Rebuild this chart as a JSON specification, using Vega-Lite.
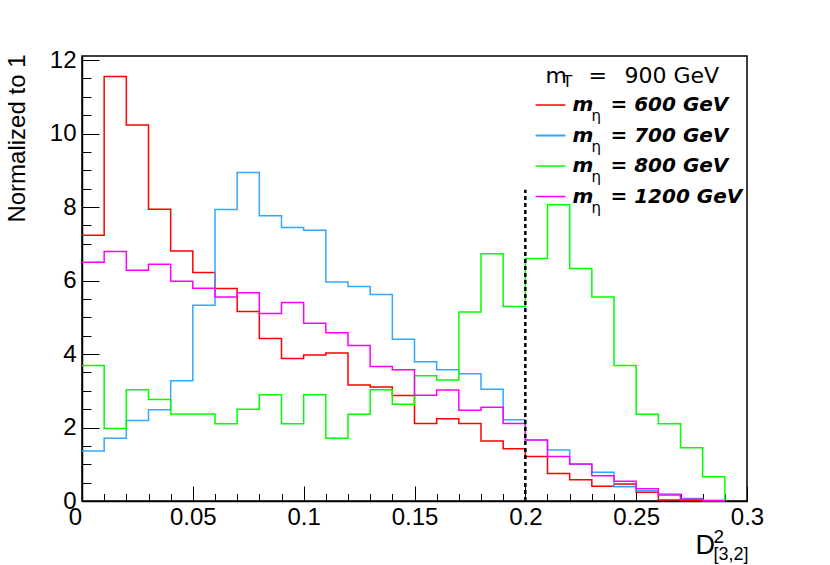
{
  "$schema": "https://vega.github.io/schema/vega-lite/v6.json",
  "width": 665,
  "height": 445,
  "autosize": {"type": "none"},
  "padding": {"left": 82, "top": 56, "right": 83, "bottom": 64},
  "background": "white",
  "datasets": {
    "hist": [
      {"s": "600", "x": 0.00, "v": 7.23}, {"s": "600", "x": 0.01, "v": 11.55}, {"s": "600", "x": 0.02, "v": 10.23},
      {"s": "600", "x": 0.03, "v": 7.94}, {"s": "600", "x": 0.04, "v": 6.80}, {"s": "600", "x": 0.05, "v": 6.22},
      {"s": "600", "x": 0.06, "v": 5.78}, {"s": "600", "x": 0.07, "v": 5.16}, {"s": "600", "x": 0.08, "v": 4.42},
      {"s": "600", "x": 0.09, "v": 3.88}, {"s": "600", "x": 0.10, "v": 3.97}, {"s": "600", "x": 0.11, "v": 4.03},
      {"s": "600", "x": 0.12, "v": 3.16}, {"s": "600", "x": 0.13, "v": 3.10}, {"s": "600", "x": 0.14, "v": 2.87},
      {"s": "600", "x": 0.15, "v": 2.11}, {"s": "600", "x": 0.16, "v": 2.24}, {"s": "600", "x": 0.17, "v": 2.11},
      {"s": "600", "x": 0.18, "v": 1.63}, {"s": "600", "x": 0.19, "v": 1.42}, {"s": "600", "x": 0.20, "v": 1.21},
      {"s": "600", "x": 0.21, "v": 0.75}, {"s": "600", "x": 0.22, "v": 0.58}, {"s": "600", "x": 0.23, "v": 0.40},
      {"s": "600", "x": 0.24, "v": 0.46}, {"s": "600", "x": 0.25, "v": 0.24}, {"s": "600", "x": 0.26, "v": 0.03},
      {"s": "600", "x": 0.27, "v": 0.01}, {"s": "600", "x": 0.28, "v": 0.0}, {"s": "600", "x": 0.29, "v": 0.0},
      {"s": "700", "x": 0.00, "v": 1.36}, {"s": "700", "x": 0.01, "v": 1.71}, {"s": "700", "x": 0.02, "v": 2.19},
      {"s": "700", "x": 0.03, "v": 2.48}, {"s": "700", "x": 0.04, "v": 3.27}, {"s": "700", "x": 0.05, "v": 5.33},
      {"s": "700", "x": 0.06, "v": 7.93}, {"s": "700", "x": 0.07, "v": 8.94}, {"s": "700", "x": 0.08, "v": 7.76},
      {"s": "700", "x": 0.09, "v": 7.44}, {"s": "700", "x": 0.10, "v": 7.37}, {"s": "700", "x": 0.11, "v": 5.96},
      {"s": "700", "x": 0.12, "v": 5.84}, {"s": "700", "x": 0.13, "v": 5.62}, {"s": "700", "x": 0.14, "v": 4.40},
      {"s": "700", "x": 0.15, "v": 3.79}, {"s": "700", "x": 0.16, "v": 3.57}, {"s": "700", "x": 0.17, "v": 3.46},
      {"s": "700", "x": 0.18, "v": 3.04}, {"s": "700", "x": 0.19, "v": 2.21}, {"s": "700", "x": 0.20, "v": 1.66},
      {"s": "700", "x": 0.21, "v": 1.39}, {"s": "700", "x": 0.22, "v": 1.00}, {"s": "700", "x": 0.23, "v": 0.78},
      {"s": "700", "x": 0.24, "v": 0.39}, {"s": "700", "x": 0.25, "v": 0.28}, {"s": "700", "x": 0.26, "v": 0.19},
      {"s": "700", "x": 0.27, "v": 0.07}, {"s": "700", "x": 0.28, "v": 0.02}, {"s": "700", "x": 0.29, "v": 0.0},
      {"s": "800", "x": 0.00, "v": 3.69}, {"s": "800", "x": 0.01, "v": 1.97}, {"s": "800", "x": 0.02, "v": 3.03},
      {"s": "800", "x": 0.03, "v": 2.76}, {"s": "800", "x": 0.04, "v": 2.37}, {"s": "800", "x": 0.05, "v": 2.37},
      {"s": "800", "x": 0.06, "v": 2.10}, {"s": "800", "x": 0.07, "v": 2.50}, {"s": "800", "x": 0.08, "v": 2.89},
      {"s": "800", "x": 0.09, "v": 2.10}, {"s": "800", "x": 0.10, "v": 2.89}, {"s": "800", "x": 0.11, "v": 1.71},
      {"s": "800", "x": 0.12, "v": 2.36}, {"s": "800", "x": 0.13, "v": 3.03}, {"s": "800", "x": 0.14, "v": 2.63},
      {"s": "800", "x": 0.15, "v": 3.41}, {"s": "800", "x": 0.16, "v": 3.29}, {"s": "800", "x": 0.17, "v": 5.14},
      {"s": "800", "x": 0.18, "v": 6.73}, {"s": "800", "x": 0.19, "v": 5.29}, {"s": "800", "x": 0.20, "v": 6.60},
      {"s": "800", "x": 0.21, "v": 8.06}, {"s": "800", "x": 0.22, "v": 6.33}, {"s": "800", "x": 0.23, "v": 5.55},
      {"s": "800", "x": 0.24, "v": 3.69}, {"s": "800", "x": 0.25, "v": 2.36}, {"s": "800", "x": 0.26, "v": 2.10},
      {"s": "800", "x": 0.27, "v": 1.45}, {"s": "800", "x": 0.28, "v": 0.66}, {"s": "800", "x": 0.29, "v": 0.0},
      {"s": "1200", "x": 0.00, "v": 6.50}, {"s": "1200", "x": 0.01, "v": 6.79}, {"s": "1200", "x": 0.02, "v": 6.28},
      {"s": "1200", "x": 0.03, "v": 6.44}, {"s": "1200", "x": 0.04, "v": 5.98}, {"s": "1200", "x": 0.05, "v": 5.79},
      {"s": "1200", "x": 0.06, "v": 5.55}, {"s": "1200", "x": 0.07, "v": 5.67}, {"s": "1200", "x": 0.08, "v": 5.10},
      {"s": "1200", "x": 0.09, "v": 5.40}, {"s": "1200", "x": 0.10, "v": 4.84}, {"s": "1200", "x": 0.11, "v": 4.58},
      {"s": "1200", "x": 0.12, "v": 4.23}, {"s": "1200", "x": 0.13, "v": 3.66}, {"s": "1200", "x": 0.14, "v": 3.57},
      {"s": "1200", "x": 0.15, "v": 2.88}, {"s": "1200", "x": 0.16, "v": 3.02}, {"s": "1200", "x": 0.17, "v": 2.47},
      {"s": "1200", "x": 0.18, "v": 2.55}, {"s": "1200", "x": 0.19, "v": 2.11}, {"s": "1200", "x": 0.20, "v": 1.66},
      {"s": "1200", "x": 0.21, "v": 1.21}, {"s": "1200", "x": 0.22, "v": 1.01}, {"s": "1200", "x": 0.23, "v": 0.69},
      {"s": "1200", "x": 0.24, "v": 0.54}, {"s": "1200", "x": 0.25, "v": 0.33}, {"s": "1200", "x": 0.26, "v": 0.16},
      {"s": "1200", "x": 0.27, "v": 0.05}, {"s": "1200", "x": 0.28, "v": 0.01}, {"s": "1200", "x": 0.29, "v": 0.0}
    ]
  },
  "layer": [
    {
      "data": {"name": "hist"},
      "mark": {"type": "line", "interpolate": "step-after", "strokeWidth": 1.5},
      "encoding": {
        "x": {
          "field": "x", "type": "quantitative",
          "scale": {"domain": [0, 0.3], "nice": false, "zero": false},
          "axis": {
            "orient": "bottom",
            "title": null,
            "values": [0, 0.05, 0.1, 0.15, 0.2, 0.25, 0.3],
            "labelExpr": "format(datum.value, '~g')",
            "ticks": false,
            "labelOffset": {"condition": {"test": "datum.value == 0", "value": -7}, "value": 0},
            "labelFlush": false,
            "labelOverlap": false,
            "labelPadding": 4
          }
        },
        "y": {
          "field": "v", "type": "quantitative",
          "scale": {"domain": [0, 12.11], "nice": false},
          "axis": {
            "orient": "left",
            "title": "Normalized to 1",
            "values": [0, 2, 4, 6, 8, 10, 12],
            "format": "d",
            "ticks": false,
            "labelOverlap": false,
            "labelPadding": 6,
            "titleX": -57.5,
            "titleY": -2,
            "titleAngle": 270,
            "titleAlign": "right",
            "titleBaseline": "alphabetic"
          }
        },
        "color": {
          "field": "s", "type": "nominal", "legend": null,
          "scale": {"domain": ["600", "700", "800", "1200"], "range": ["#ff0000", "#33a6ff", "#00ff00", "#ff00ff"]}
        }
      }
    },
    {
      "data": {"values": [{}]},
      "mark": {"type": "rule", "color": "black", "strokeWidth": 2.5, "strokeDash": [4, 3]},
      "encoding": {
        "x": {"datum": 0.2, "axis": {"orient": "top", "offset": -445, "title": null, "values": [0, 0.05, 0.1, 0.15, 0.2, 0.25, 0.3], "labels": false, "domain": false, "tickSize": 15}},
        "y": {"datum": 0, "axis": {"orient": "right", "offset": -665, "title": null, "values": [0, 2, 4, 6, 8, 10, 12], "labels": false, "domain": false, "tickSize": 17}},
        "y2": {"datum": 8.47}
      }
    },
    {
      "data": {"values": [{}]},
      "mark": {"type": "rule", "color": "#ff0000", "strokeWidth": 1.5},
      "encoding": {
        "x": {"datum": 0.2046, "axis": {"orient": "top", "offset": -445, "title": null, "values": [0, 0.01, 0.02, 0.03, 0.04, 0.05, 0.06, 0.07, 0.08, 0.09, 0.1, 0.11, 0.12, 0.13, 0.14, 0.15, 0.16, 0.17, 0.18, 0.19, 0.2, 0.21, 0.22, 0.23, 0.24, 0.25, 0.26, 0.27, 0.28, 0.29, 0.3], "labels": false, "domain": false, "tickSize": 7.5}},
        "x2": {"datum": 0.2181},
        "y": {"datum": 10.776, "axis": {"orient": "right", "offset": -665, "title": null, "values": [0, 0.5, 1, 1.5, 2, 2.5, 3, 3.5, 4, 4.5, 5, 5.5, 6, 6.5, 7, 7.5, 8, 8.5, 9, 9.5, 10, 10.5, 11, 11.5, 12], "labels": false, "domain": false, "tickSize": 9}}
      }
    },
    {
      "data": {"values": [{}]},
      "mark": {"type": "rule", "color": "#33a6ff", "strokeWidth": 2},
      "encoding": {"x": {"datum": 0.2046, "axis": null}, "x2": {"datum": 0.2181}, "y": {"datum": 9.946, "axis": null}}
    },
    {
      "data": {"values": [{}]},
      "mark": {"type": "rule", "color": "#00ff00", "strokeWidth": 1.5},
      "encoding": {"x": {"datum": 0.2046, "axis": null}, "x2": {"datum": 0.2181}, "y": {"datum": 9.116, "axis": null}}
    },
    {
      "data": {"values": [{}]},
      "mark": {"type": "rule", "color": "#ff00ff", "strokeWidth": 1.5},
      "encoding": {"x": {"datum": 0.2046, "axis": null}, "x2": {"datum": 0.2181}, "y": {"datum": 8.286, "axis": null}}
    },
    {
      "data": {"values": [{}]},
      "mark": {"type": "text", "text": "D", "font": "Liberation Sans", "fontSize": 27, "align": "left", "baseline": "alphabetic", "dx": -51.5, "dy": 53, "color": "black"},
      "encoding": {"x": {"datum": 0.3, "axis": null}, "y": {"datum": 0, "axis": null}}
    },
    {
      "data": {"values": [{}]},
      "mark": {"type": "text", "text": "2", "font": "Liberation Sans", "fontSize": 19, "align": "left", "baseline": "alphabetic", "dx": -33.5, "dy": 42, "color": "black"},
      "encoding": {"x": {"datum": 0.3, "axis": null}, "y": {"datum": 0, "axis": null}}
    },
    {
      "data": {"values": [{}]},
      "mark": {"type": "text", "text": "[3,2]", "font": "Liberation Sans", "fontSize": 18, "align": "left", "baseline": "alphabetic", "dx": -33.5, "dy": 59, "color": "black"},
      "encoding": {"x": {"datum": 0.3, "axis": null}, "y": {"datum": 0, "axis": null}}
    },
    {
      "data": {"values": [{}]},
      "mark": {"type": "text", "text": "m", "font": "DejaVu Sans", "fontSize": 22, "align": "left", "baseline": "alphabetic", "color": "black"},
      "encoding": {"x": {"datum": 0.2091, "axis": null}, "y": {"datum": 11.374, "axis": null}}
    },
    {
      "data": {"values": [{}]},
      "mark": {"type": "text", "text": "T", "font": "DejaVu Sans", "fontSize": 16, "align": "left", "baseline": "alphabetic", "dy": 4, "color": "black"},
      "encoding": {"x": {"datum": 0.2168, "axis": null}, "y": {"datum": 11.374, "axis": null}}
    },
    {
      "data": {"values": [{}]},
      "mark": {"type": "text", "text": "=", "font": "DejaVu Sans", "fontSize": 22, "align": "left", "baseline": "alphabetic", "color": "black"},
      "encoding": {"x": {"datum": 0.2285, "axis": null}, "y": {"datum": 11.374, "axis": null}}
    },
    {
      "data": {"values": [{}]},
      "mark": {"type": "text", "text": "900 GeV", "font": "DejaVu Sans", "fontSize": 22, "align": "left", "baseline": "alphabetic", "color": "black"},
      "encoding": {"x": {"datum": 0.2447, "axis": null}, "y": {"datum": 11.374, "axis": null}}
    },
    {
      "data": {"values": [{"y": 10.612, "t": "= 600 GeV"}, {"y": 9.782, "t": "= 700 GeV"}, {"y": 8.952, "t": "= 800 GeV"}, {"y": 8.122, "t": "= 1200 GeV"}]},
      "layer": [
        {
          "mark": {"type": "text", "text": "m", "font": "DejaVu Sans", "fontSize": 20, "fontWeight": "bold", "fontStyle": "italic", "align": "left", "baseline": "alphabetic", "color": "black"},
          "encoding": {"x": {"datum": 0.2213, "axis": null}, "y": {"field": "y", "type": "quantitative", "axis": null}}
        },
        {
          "mark": {"type": "text", "text": "η", "font": "DejaVu Sans", "fontSize": 15, "align": "left", "baseline": "alphabetic", "dy": 10, "color": "black"},
          "encoding": {"x": {"datum": 0.2298, "axis": null}, "y": {"field": "y", "type": "quantitative", "axis": null}}
        },
        {
          "mark": {"type": "text", "font": "DejaVu Sans", "fontSize": 20, "fontWeight": "bold", "fontStyle": "italic", "align": "left", "baseline": "alphabetic", "color": "black"},
          "encoding": {"x": {"datum": 0.2384, "axis": null}, "y": {"field": "y", "type": "quantitative", "axis": null}, "text": {"field": "t"}}
        }
      ]
    }
  ],
  "config": {
    "font": "Liberation Sans",
    "view": {"stroke": "black", "strokeWidth": 1.5},
    "axis": {
      "grid": false,
      "domainColor": "black",
      "domainWidth": 1.5,
      "tickColor": "black",
      "tickWidth": 1,
      "labelFont": "Liberation Sans",
      "labelFontSize": 24,
      "labelColor": "black",
      "titleFont": "Liberation Sans",
      "titleFontSize": 24,
      "titleFontWeight": "normal",
      "titleColor": "black"
    }
  }
}
